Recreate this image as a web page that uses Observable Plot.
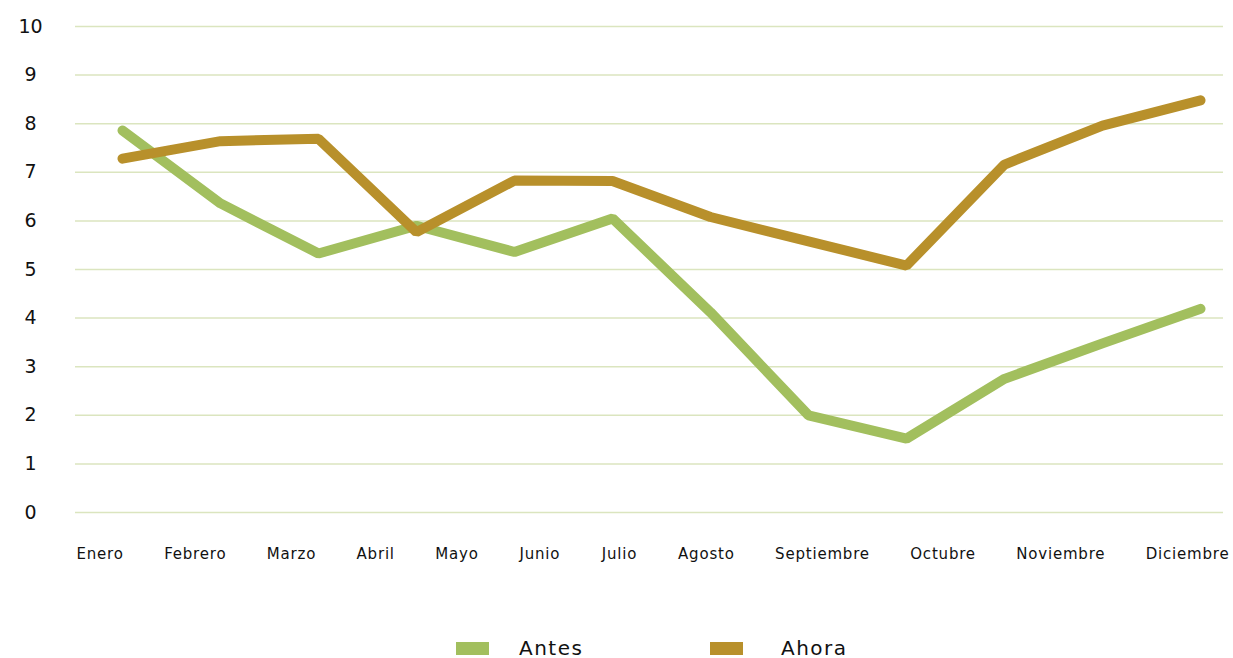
<!DOCTYPE html>
<html>
<head>
<meta charset="utf-8">
<script src="https://cdn.jsdelivr.net/npm/d3@7"></script>
<script src="https://cdn.jsdelivr.net/npm/@observablehq/plot@0.6"></script>
<style>
  html, body { margin: 0; padding: 0; background: #fff; }
  body { width: 1233px; height: 658px; overflow: hidden; font-family: "DejaVu Sans", sans-serif; }
  #legend { display: flex; align-items: center; height: 20px; margin-top: 58px; padding-left: 456px; font-size: 20px; letter-spacing: 1.5px; color: #111; }
  .sw { width: 33px; height: 13px; display: inline-block; }
  .item { display: flex; align-items: center; }
</style>
</head>
<body>
<div id="chart"></div>
<div id="legend"></div>
<script>
const months = ["Enero","Febrero","Marzo","Abril","Mayo","Junio","Julio","Agosto","Septiembre","Octubre","Noviembre","Diciembre"];
const antes = [7.86, 6.36, 5.33, 5.9, 5.36, 6.05, 4.12, 2.0, 1.52, 2.75, 3.48, 4.19];
const ahora = [7.28, 7.64, 7.69, 5.77, 6.83, 6.82, 6.08, 5.58, 5.08, 7.16, 7.96, 8.48];
const seriesNames = ["Antes", "Ahora"];
const seriesColors = ["#a2bf5e", "#b8902b"];
const yTicks = [0,1,2,3,4,5,6,7,8,9,10];

const data = [];
months.forEach((m, i) => {
  data.push({month: m, value: antes[i], series: "Antes"});
  data.push({month: m, value: ahora[i], series: "Ahora"});
});

const plot = Plot.plot({
  width: 1233,
  height: 580,
  marginTop: 26,
  marginBottom: 68,
  marginLeft: 75,
  marginRight: 10,
  style: {fontFamily: "DejaVu Sans, sans-serif", background: "#fff", color: "#111"},
  x: {type: "point", domain: months, range: [122, 1200], padding: 0, label: null},
  y: {domain: [0, 10], label: null},
  color: {domain: seriesNames, range: seriesColors},
  marks: [
    Plot.ruleY(yTicks, {stroke: "#dbe5bf", strokeWidth: 1.5}),
    Plot.axisY(yTicks, {tickSize: 0, tickPadding: 45, textAnchor: "middle", fontSize: 19, label: null, fill: "#111"}),
    Plot.axisX({tickSize: 0, tickPadding: 36, fontSize: 15, label: null, fill: "#111"}),
    Plot.line(data, {x: "month", y: "value", z: "series", stroke: "series", strokeWidth: 10, strokeLinecap: "round", strokeLinejoin: "miter"})
  ]
});
document.getElementById("chart").appendChild(plot);

// distribute x tick labels evenly across the available width (space-between)
const xt = plot.querySelectorAll('[aria-label="x-axis tick label"] text');
if (xt.length) {
  xt.forEach(t => t.style.letterSpacing = "0.8px");
  const widths = Array.from(xt, t => t.getBBox().width);
  const L = 76, R = 1229;
  const gap = (R - L - d3.sum(widths)) / (widths.length - 1);
  let cur = L;
  xt.forEach((t, i) => {
    const m = /translate\(([^,]+),([^)]+)\)/.exec(t.getAttribute("transform"));
    const y = m ? m[2] : 0;
    t.setAttribute("transform", `translate(${cur + widths[i] / 2},${y})`);
    cur += widths[i] + gap;
  });
}

const legend = document.getElementById("legend");
seriesNames.forEach((name, i) => {
  const item = document.createElement("div");
  item.className = "item";
  item.style.width = i === 0 ? "254px" : "auto";
  item.style.marginLeft = i === 1 ? "0" : "0";
  item.innerHTML = `<span class="sw" style="background:${seriesColors[i]}"></span><span style="margin-left:${i === 0 ? 30 : 38}px">${name}</span>`;
  legend.appendChild(item);
});
</script>
</body>
</html>
